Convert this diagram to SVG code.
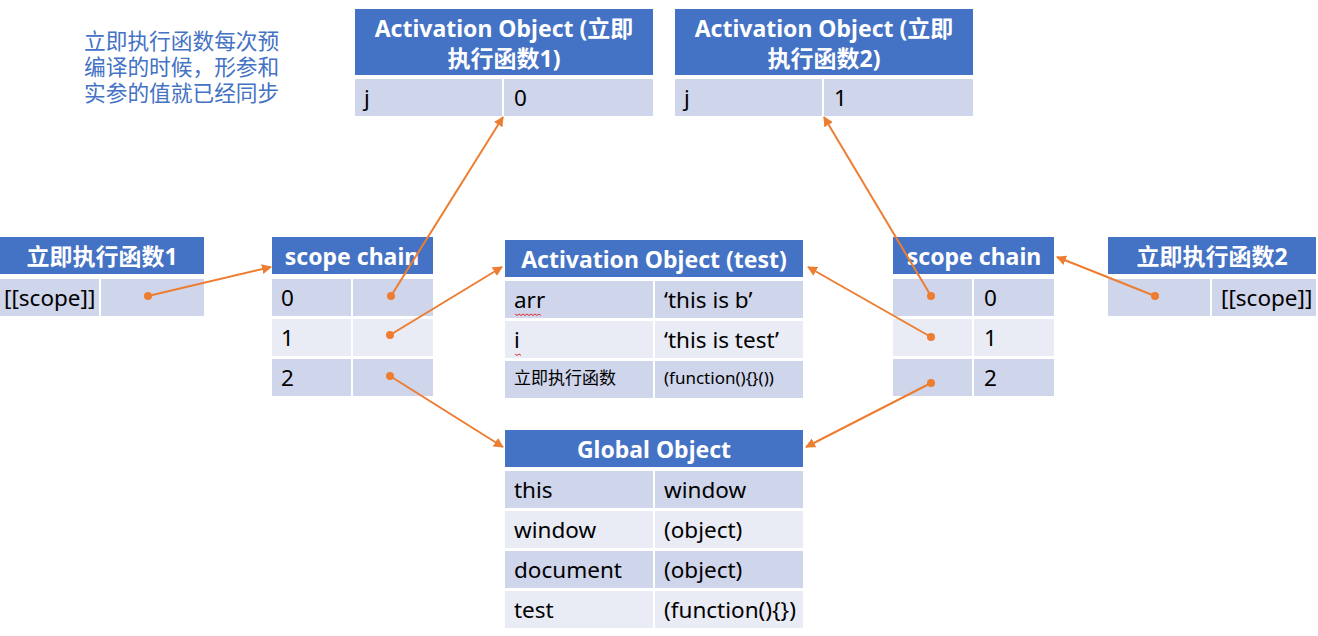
<svg xmlns="http://www.w3.org/2000/svg" width="1318" height="636" viewBox="0 0 1318 636">
<defs>
<style>
.hd{fill:#4472C4}
.d{fill:#CFD5EA}
.l{fill:#E9EBF5}
.ht{font-family:"Noto Sans","Noto Sans CJK SC",sans-serif;font-weight:bold;font-size:23px;fill:#fff;text-anchor:middle}
.t{font-family:"Noto Sans","Noto Sans CJK SC",sans-serif;font-size:22.5px;fill:#000}
.s{font-family:"Noto Sans","Noto Sans CJK SC",sans-serif;font-size:17px;fill:#000}
.note{font-family:"Noto Sans CJK SC",sans-serif;font-size:21.7px;fill:#4472C4}
.c{stroke:#ED7D31;stroke-width:2;fill:none;marker-end:url(#ah)}
.dot{fill:#ED7D31}
.sq{stroke:#E03030;stroke-width:1;fill:none}
</style>
<marker id="ah" viewBox="0 0 10 10" refX="9" refY="5" markerWidth="5" markerHeight="5" orient="auto" markerUnits="strokeWidth">
<path d="M0,0 L10,5 L0,10 z" fill="#ED7D31"/>
</marker>
</defs>
<rect width="1318" height="636" fill="#fff"/>

<g id="note">
<text class="note"><tspan x="84" y="49">立即执行函数每次预</tspan><tspan x="84" y="75">编译的时候，形参和</tspan><tspan x="84" y="101">实参的值就已经同步</tspan></text>
</g>

<g id="ao1">
<rect class="hd" x="355" y="9" width="298" height="66"/>
<text class="ht" x="504" y="37">Activation Object (立即</text>
<text class="ht" x="504" y="67">执行函数1)</text>
<rect class="d" x="355" y="79" width="147" height="37"/>
<rect class="d" x="504" y="79" width="149" height="37"/>
<text class="t" x="364" y="106">j</text>
<text class="t" x="514" y="106">0</text>
</g>

<g id="ao2">
<rect class="hd" x="675" y="9" width="298" height="66"/>
<text class="ht" x="824" y="37">Activation Object (立即</text>
<text class="ht" x="824" y="67">执行函数2)</text>
<rect class="d" x="675" y="79" width="147" height="37"/>
<rect class="d" x="824" y="79" width="149" height="37"/>
<text class="t" x="684" y="106">j</text>
<text class="t" x="834" y="106">1</text>
</g>

<g id="fn1">
<rect class="hd" x="0" y="237" width="204" height="37"/>
<text class="ht" x="102" y="265">立即执行函数1</text>
<rect class="d" x="0" y="279" width="99" height="37"/>
<rect class="d" x="101" y="279" width="103" height="37"/>
<text class="t" x="4" y="306">[[scope]]</text>
</g>

<g id="sc1">
<rect class="hd" x="272" y="237" width="161" height="37"/>
<text class="ht" x="352" y="265">scope chain</text>
<rect class="d" x="272" y="279" width="79" height="37"/>
<rect class="d" x="353" y="279" width="80" height="37"/>
<rect class="l" x="272" y="319" width="79" height="37"/>
<rect class="l" x="353" y="319" width="80" height="37"/>
<rect class="d" x="272" y="359" width="79" height="37"/>
<rect class="d" x="353" y="359" width="80" height="37"/>
<text class="t" x="281" y="306">0</text>
<text class="t" x="281" y="346">1</text>
<text class="t" x="281" y="386">2</text>
</g>

<g id="aotest">
<rect class="hd" x="505" y="240" width="298" height="37"/>
<text class="ht" x="654" y="268">Activation Object (test)</text>
<rect class="d" x="505" y="281" width="148" height="37"/>
<rect class="d" x="655" y="281" width="148" height="37"/>
<rect class="l" x="505" y="321" width="148" height="37"/>
<rect class="l" x="655" y="321" width="148" height="37"/>
<rect class="d" x="505" y="361" width="148" height="37"/>
<rect class="d" x="655" y="361" width="148" height="37"/>
<text class="t" x="514" y="308">arr</text>
<text class="t" x="664" y="308">‘this is b’</text>
<text class="t" x="514" y="348">i</text>
<text class="t" x="664" y="348">‘this is test’</text>
<text class="s" x="514" y="384">立即执行函数</text>
<text class="s" x="664" y="384">(function(){}())</text>
<path class="sq" d="M515,314 l2,1.5 l2,-1.5 l2,1.5 l2,-1.5 l2,1.5 l2,-1.5 l2,1.5 l2,-1.5 l2,1.5 l2,-1.5 l2,1.5 l2,-1.5 l2,1.5"/>
<path class="sq" d="M515,354 l2,1.5 l2,-1.5 l2,1.5"/>
</g>

<g id="global">
<rect class="hd" x="505" y="430" width="298" height="37"/>
<text class="ht" x="654" y="458">Global Object</text>
<rect class="d" x="505" y="471" width="148" height="37"/>
<rect class="d" x="655" y="471" width="148" height="37"/>
<rect class="l" x="505" y="511" width="148" height="37"/>
<rect class="l" x="655" y="511" width="148" height="37"/>
<rect class="d" x="505" y="551" width="148" height="37"/>
<rect class="d" x="655" y="551" width="148" height="37"/>
<rect class="l" x="505" y="591" width="148" height="37"/>
<rect class="l" x="655" y="591" width="148" height="37"/>
<text class="t" x="514" y="498">this</text>
<text class="t" x="664" y="498">window</text>
<text class="t" x="514" y="538">window</text>
<text class="t" x="664" y="538">(object)</text>
<text class="t" x="514" y="578">document</text>
<text class="t" x="664" y="578">(object)</text>
<text class="t" x="514" y="618">test</text>
<text class="t" x="664" y="618">(function(){})</text>
</g>

<g id="sc2">
<rect class="hd" x="893" y="237" width="161" height="37"/>
<text class="ht" x="974" y="265">scope chain</text>
<rect class="d" x="893" y="279" width="79" height="37"/>
<rect class="d" x="974" y="279" width="80" height="37"/>
<rect class="l" x="893" y="319" width="79" height="37"/>
<rect class="l" x="974" y="319" width="80" height="37"/>
<rect class="d" x="893" y="359" width="79" height="37"/>
<rect class="d" x="974" y="359" width="80" height="37"/>
<text class="t" x="984" y="306">0</text>
<text class="t" x="984" y="346">1</text>
<text class="t" x="984" y="386">2</text>
</g>

<g id="fn2">
<rect class="hd" x="1108" y="237" width="208" height="37"/>
<text class="ht" x="1212" y="265">立即执行函数2</text>
<rect class="d" x="1108" y="279" width="102" height="37"/>
<rect class="d" x="1212" y="279" width="104" height="37"/>
<text class="t" x="1221" y="306">[[scope]]</text>
</g>

<g id="connectors">
<circle class="dot" cx="148" cy="296" r="4"/>
<path class="c" d="M148,296 L271,267"/>
<circle class="dot" cx="391" cy="296" r="4"/>
<path class="c" d="M391,296 L503,117"/>
<circle class="dot" cx="390" cy="335" r="4"/>
<path class="c" d="M390,335 L502,267"/>
<circle class="dot" cx="390" cy="376" r="4"/>
<path class="c" d="M390,376 L503,447"/>
<circle class="dot" cx="931" cy="296" r="4"/>
<path class="c" d="M931,296 L824,117"/>
<circle class="dot" cx="931" cy="337" r="4"/>
<path class="c" d="M931,337 L808,267"/>
<circle class="dot" cx="931" cy="383" r="4"/>
<path class="c" d="M931,383 L806,447"/>
<circle class="dot" cx="1155" cy="296" r="4"/>
<path class="c" d="M1155,296 L1057,257"/>
</g>
</svg>
